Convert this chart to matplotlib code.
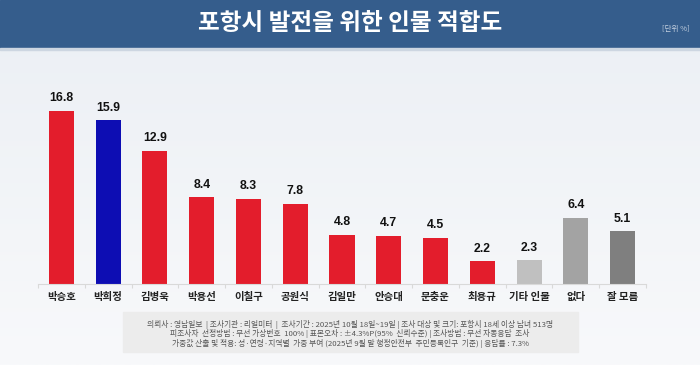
import numpy as np
import matplotlib
matplotlib.use("Agg")
import matplotlib.pyplot as plt
from matplotlib.patches import Rectangle

plt.rcParams['font.family'] = ['Noto Sans CJK KR', 'DejaVu Sans']

# 데이터
names = ['박승호', '박희정', '김병욱', '박용선', '이칠구', '공원식', '김일만',
         '안승대', '문충운', '최용규', '기타 인물', '없다', '잘 모름']
values = [16.8, 15.9, 12.9, 8.4, 8.3, 7.8, 4.8, 4.7, 4.5, 2.2, 2.3, 6.4, 5.1]
colors = ['#e31d2c', '#0d0db3'] + ['#e31d2c'] * 8 + ['#c0c0c0', '#a3a3a3', '#7f7f7f']

title = '포항시 발전을 위한 인물 적합도'
unit = '[단위 %]'
notes = [
    '의뢰사 : 영남일보  | 조사기관 : 리얼미터  |  조사기간 : 2025년 10월 18일~19일 | 조사 대상 및 크기: 포항시 18세 이상 남녀 513명',
    '피조사자  선정방법 : 무선 가상번호  100% | 표본오차 : ±4.3%P(95%  신뢰수준) | 조사방법 : 무선 자동응답  조사',
    '가중값 산출 및 적용: 성·연령·지역별  가중 부여 (2025년 9월 말 행정안전부  주민등록인구  기준) | 응답률 : 7.3%',
]

W, H = 700, 365
fig = plt.figure(figsize=(W / 100, H / 100), dpi=100)

# 배경 그라데이션
bg = fig.add_axes([0, 0, 1, 1], zorder=0)
grad = np.linspace(0, 1, 256).reshape(-1, 1)
bg.imshow(grad, aspect='auto', extent=[0, 1, 0, 1], origin='lower',
          cmap=matplotlib.colors.LinearSegmentedColormap.from_list('bg', ['#f8f9fb', '#ebeff4']))
bg.set_xlim(0, 1)
bg.set_ylim(0, 1)
bg.axis('off')

# 헤더
bg.add_patch(Rectangle((0, 1 - 47.5 / H), 1, 47.5 / H, color='#355d8c', zorder=2))
bg.add_patch(Rectangle((0, 1 - 49.5 / H), 1, 2 / H, color='#cdd6e1', zorder=2))
bg.text(0.5, 1 - 23 / H, title, color='white', fontsize=17, fontweight='bold',
        ha='center', va='center', zorder=3)
bg.text(676 / W, 1 - 29 / H, unit, color='#c5d1e0', fontsize=5.5,
        ha='center', va='center', zorder=3)

# 하단 주석 박스
bg.add_patch(Rectangle((123 / W, 1 - 352 / H), 455 / W, 40 / H, color='#ececec', zorder=2))
for k, line in enumerate(notes):
    bg.text(350 / W, 1 - (324.5 + k * 9.5) / H, line, color='#555555', fontsize=5.6,
            ha='center', va='center', zorder=3)

# 막대 차트
ax = fig.add_axes([38 / W, 81 / H, 608 / W, 224 / H], zorder=1)
ax.patch.set_alpha(0)
x = np.arange(len(names))
ax.bar(x, values, width=0.535, color=colors, zorder=2)
for i, v in enumerate(values):
    ax.text(i, v + 0.65, f'{v:.1f}', ha='center', va='bottom', fontsize=8.8,
            fontweight='bold', color='#111111', family=['Liberation Sans', 'DejaVu Sans'])

ax.set_xlim(-0.5, len(names) - 0.5)
ax.set_ylim(0, 21.75)
ax.set_yticks([])
for s in ['top', 'right', 'left']:
    ax.spines[s].set_visible(False)
ax.spines['bottom'].set_color('#d9d9d9')
ax.spines['bottom'].set_linewidth(0.8)
ax.set_xticks(x)
ax.set_xticklabels(names, fontsize=7.5, fontweight='bold', color='#222222')
ax.tick_params(axis='x', which='major', length=0, pad=6)
ax.set_xticks(np.arange(-0.5, len(names)), minor=True)
ax.tick_params(axis='x', which='minor', length=3, color='#d9d9d9', width=0.8)

fig.savefig('out.png', dpi=100, facecolor='white')
